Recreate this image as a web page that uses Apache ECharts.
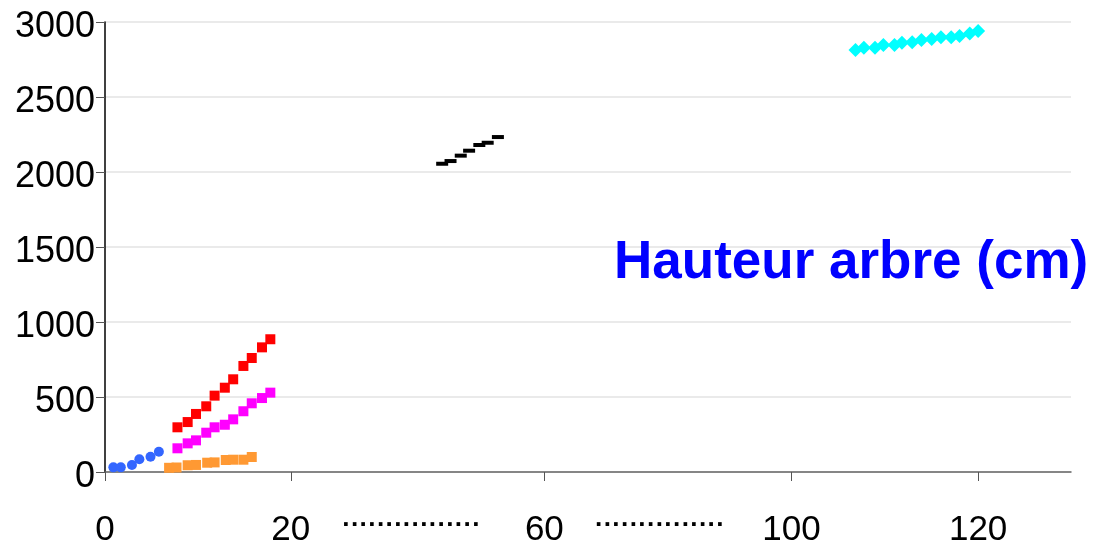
<!DOCTYPE html>
<html>
<head>
<meta charset="utf-8">
<title>Hauteur arbre</title>
<script src="https://cdn.jsdelivr.net/npm/echarts@6/dist/echarts.min.js"></script>
<style>
html,body{margin:0;padding:0;background:#fff;}
#heightChart{width:1094px;height:543px;}
</style>
</head>
<body>
<div id="heightChart"></div>
<script>
// axe x casse : positions sur l'echelle du dessin et libelles affiches
var xTickPos = [0, 20, 47.3, 73.9, 94.0];
var xTickText = ['0', '20', '60', '100', '120'];
var xGapPos = [33.0, 59.75];
var xGapText = ['················', '···············'];

var blueX = [0.9, 1.7, 2.9, 3.7, 4.9, 5.8];
var blueY = [31, 31, 47, 85, 102, 135];

var redX = [7.8, 8.9, 9.8, 10.9, 11.8, 12.9, 13.8, 14.9, 15.8, 16.9, 17.8];
var redY = [298, 333, 387, 438, 509, 562, 618, 707, 760, 831, 885];

var pinkX = [7.8, 8.9, 9.8, 10.9, 11.8, 12.9, 13.8, 14.9, 15.8, 16.9, 17.8];
var pinkY = [158, 191, 211, 262, 298, 315, 351, 405, 458, 493, 529];

var orangeX = [6.9, 7.7, 8.9, 9.8, 11.0, 11.8, 13.0, 13.8, 14.9, 15.8];
var orangeY = [28, 30, 45, 47, 62, 64, 80, 82, 82, 100];

var blackX = [36.3, 37.2, 38.3, 39.2, 40.3, 41.2, 42.3];
var blackY = [2055, 2073, 2109, 2142, 2180, 2195, 2233];

var cyanX = [80.8, 81.7, 82.9, 83.8, 85.0, 85.8, 86.9, 87.9, 89.0, 90.0, 91.1, 92.0, 93.1, 94.0];
var cyanY = [2813, 2829, 2829, 2847, 2847, 2862, 2865, 2880, 2887, 2898, 2898, 2907, 2924, 2940];

var FONT = '"Liberation Sans", Arial, sans-serif';

function pairs(xs, ys){
    var out = [];
    for(var i = 0; i < xs.length; i++){
        out.push([xs[i], ys[i]]);
    }
    return out;
}

var heightChartObj = {
    myChart : echarts.init(document.getElementById('heightChart')),
    option : null,
    init : function(){
        var that = this;
        that.render();
    },
    xLabel : function(value){
        var i;
        for(i = 0; i < xTickPos.length; i++){
            if(Math.abs(value - xTickPos[i]) < 0.01){ return xTickText[i]; }
        }
        for(i = 0; i < xGapPos.length; i++){
            if(Math.abs(value - xGapPos[i]) < 0.01){ return '{d|' + xGapText[i] + '}'; }
        }
        return '';
    },
    serie : function(xs, ys, symbol, size, color){
        return {
            type : 'scatter',
            data : pairs(xs, ys),
            symbol : symbol,
            symbolSize : size,
            itemStyle : { color : color, opacity : 1 },
            z : 3
        };
    },
    render : function(){
        var that = this;
        that.option = {
            animation : false,
            backgroundColor : '#ffffff',
            title : {
                text : 'Hauteur arbre (cm)',
                left : 609,
                top : 232,
                textStyle : {
                    color : '#0000ff',
                    fontFamily : FONT,
                    fontWeight : 'bold',
                    fontSize : 53
                }
            },
            grid : {
                left : 105,
                right : 23,
                top : 22,
                bottom : 71,
                outerBoundsMode : 'none'
            },
            xAxis : {
                type : 'value',
                min : 0,
                max : 104,
                splitLine : { show : false },
                axisLine : { lineStyle : { color : '#666', width : 1.5 } },
                axisTick : {
                    customValues : xTickPos,
                    length : 9,
                    lineStyle : { color : '#555' }
                },
                axisLabel : {
                    customValues : xTickPos.concat(xGapPos),
                    margin : 41,
                    color : '#000',
                    fontFamily : FONT,
                    fontSize : 35,
                    formatter : function(v){ return that.xLabel(v); },
                    rich : {
                        d : {
                            fontFamily : FONT,
                            fontWeight : 'bold',
                            fontSize : 26,
                            color : '#000',
                            padding : [0, 0, 8, 0]
                        }
                    }
                }
            },
            yAxis : {
                type : 'value',
                min : 0,
                max : 3000,
                interval : 500,
                axisLine : { show : true, lineStyle : { color : '#000', width : 1.5 } },
                axisTick : { show : true, length : 9, lineStyle : { color : '#555' } },
                splitLine : { lineStyle : { color : '#e3e3e3', width : 1.5 } },
                axisLabel : {
                    margin : 10,
                    color : '#000',
                    fontFamily : FONT,
                    fontSize : 36,
                    verticalAlign : 'top',
                    lineHeight : 10,
                    formatter : function(v){ return String(v); }
                }
            },
            series : [
                that.serie(blueX, blueY, 'circle', 10, '#3366ff'),
                that.serie(orangeX, orangeY, 'rect', 10, '#ff9933'),
                that.serie(pinkX, pinkY, 'rect', 10, '#ff00ff'),
                that.serie(redX, redY, 'rect', 10, '#ff0000'),
                that.serie(blackX, blackY, 'rect', [12, 4], '#000000'),
                that.serie(cyanX, cyanY, 'diamond', 14, '#00ffff')
            ]
        };
        that.myChart.setOption(that.option);
    }
};
heightChartObj.init();
</script>
</body>
</html>
